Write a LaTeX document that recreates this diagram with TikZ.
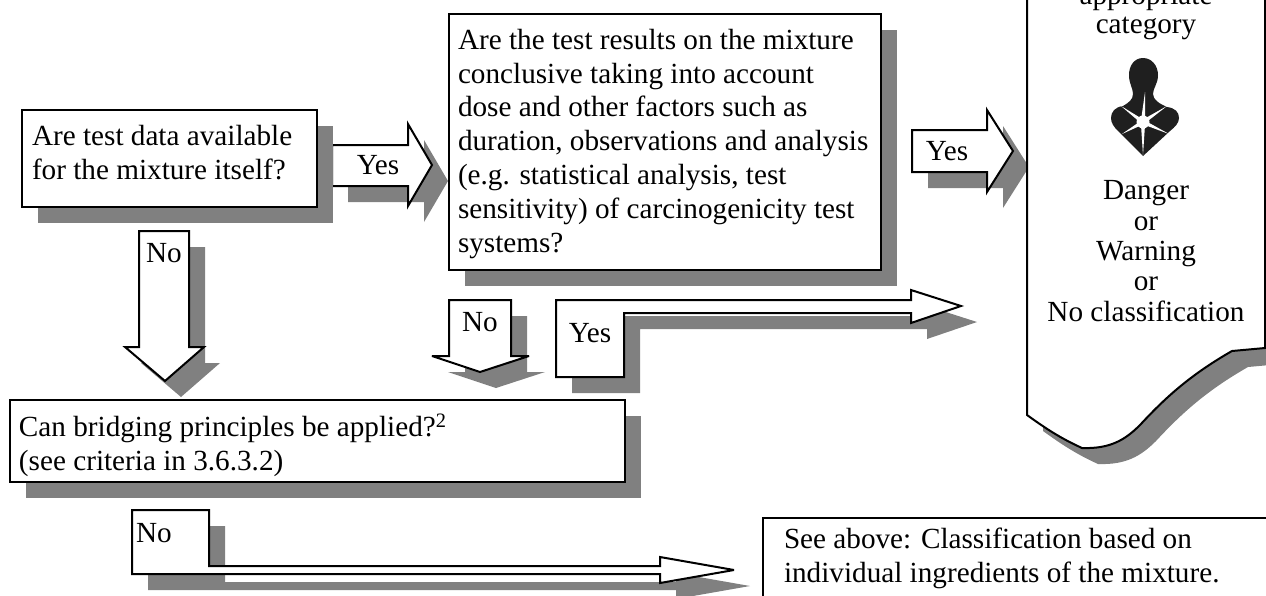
\documentclass[tikz,border=0pt]{standalone}
\usepackage{fontspec}
\setmainfont{Liberation Serif}
\usetikzlibrary{calc}
\definecolor{sdwgray}{gray}{0.5}
\definecolor{symbolblack}{gray}{0.12}
\tikzset{
  sdwfill/.style={fill=sdwgray, draw=none, shift={(16,16)}},
  outline/.style={draw=black, fill=white, line width=2pt, miter limit=4},
  txt/.style={inner sep=0pt, outer sep=0pt, align=left, anchor=north west,
    font=\fontsize{29.2}{33.8}\selectfont},
  lbl/.style={inner sep=0pt, outer sep=0pt, anchor=base,
    font=\fontsize{29.2}{33.8}\selectfont}
}
% every shape comes with its gray copy
\newcommand{\shadowed}[1]{\path[sdwfill] #1; \path[outline] #1;}
\begin{document}
\begin{tikzpicture}[x=1pt, y=-1pt]
  \clip (0,0) rectangle (1266,595);

  % Block arrows first, boxes cover their shadows
  \shadowed{(332,145) -- (408,145) -- (408,124) -- (432,165) -- (408,206) -- (408,186) -- (332,186) -- cycle}
  \shadowed{(912,130) -- (987,130) -- (987,110) -- (1013,151) -- (987,192) -- (987,172) -- (912,172) -- cycle}
  \shadowed{(139,231) -- (189,231) -- (189,347) -- (204,347) -- (165,381) -- (125,347) -- (139,347) -- cycle}
  \shadowed{(449,300) -- (511,300) -- (511,356) -- (529,356) -- (480,372) -- (432,356) -- (449,356) -- cycle}
  \shadowed{(556,300) -- (911,300) -- (911,290) -- (961,306) -- (911,323) -- (911,313) -- (624,313) -- (624,377) -- (556,377) -- cycle}
  \shadowed{(132,510) -- (209,510) -- (209,566) -- (660,566) -- (660,557) -- (734,570) -- (660,583) -- (660,574) -- (132,574) -- cycle}

  % Boxes
  \shadowed{(22,110) rectangle (317,207)}
  \shadowed{(449,14) rectangle (881,270)}
  \shadowed{(10,400) rectangle (625,482)}
  \shadowed{(763,518) rectangle (1290,640)}

  % Box with the wavy lower edge
  \shadowed{(1027,-30) -- (1027,415) .. controls (1045,428) and (1060,438) .. (1082,448)
    .. controls (1110,449) and (1125,440) .. (1140,425)
    .. controls (1165,398) and (1190,375) .. (1232,351) -- (1265,348) -- (1265,-30) -- cycle}

  % Texts of the boxes
  \node[txt] (data) at (32,125) {Are test data available\\for the mixture itself?};
  \node[txt] (results) at (458,29) {Are the test results on the mixture\\conclusive taking into account\\dose and other factors such as\\duration, observations and analysis\\(e.g. statistical analysis, test\\sensitivity) of carcinogenicity test\\systems?};
  \node[txt] (bridging) at (19,414) {Can bridging principles be applied?\textsuperscript{2}\\(see criteria in 3.6.3.2)};
  \node[txt] (seeabove) at (784,528) {See above: Classification based on\\individual ingredients of the mixture.};

  % Texts of the arrows
  \node[lbl] (yesdata) at (378,174) {Yes};
  \node[lbl] (yesresults) at (947,160) {Yes};
  \node[lbl] (nodata) at (164,262) {No};
  \node[lbl] (noresults) at (480,331) {No};
  \node[lbl] (yesbent) at (590,342) {Yes};
  \node[lbl] (nobent) at (154,542) {No};

  % Right box
  \node[lbl] (appropriate) at (1146,4) {appropriate};
  \node[lbl] (category) at (1146,33) {category};
  \node[lbl] (danger) at (1146,199) {Danger};
  \node[lbl] (ora) at (1146,230) {or};
  \node[lbl] (warning) at (1146,260) {Warning};
  \node[lbl] (orb) at (1146,290) {or};
  \node[lbl] (noclass) at (1146,321) {No classification};

  % Hazard symbol
  \fill[symbolblack] (1143,58) .. controls (1134,58) and (1129,66) .. (1129,75)
    .. controls (1129,84) and (1133,88) .. (1133,94) .. controls (1133,100) and (1128,103) .. (1123,106)
    .. controls (1115,107) and (1111,112) .. (1111,118)
    .. controls (1111,123) and (1114,127) .. (1118,131) -- (1143,156) -- (1170,131)
    .. controls (1175,127) and (1179,123) .. (1179,118) .. controls (1179,112) and (1175,108) .. (1167,107)
    .. controls (1160,104) and (1153,100) .. (1153,94)
    .. controls (1153,88) and (1158,84) .. (1158,75) .. controls (1158,66) and (1152,58) .. (1143,58) -- cycle;
  \fill[white] (1143,122) circle (6.5);
  \foreach \tipx/\tipy in {1145/92, 1121/106, 1167/106, 1122/134, 1169/134, 1143/155} {
    \fill[white] (\tipx,\tipy) -- ($(1143,122)!2.2pt!90:(\tipx,\tipy)$) -- ($(1143,122)!2.2pt!-90:(\tipx,\tipy)$) -- cycle;
  }
\end{tikzpicture}
\end{document}
